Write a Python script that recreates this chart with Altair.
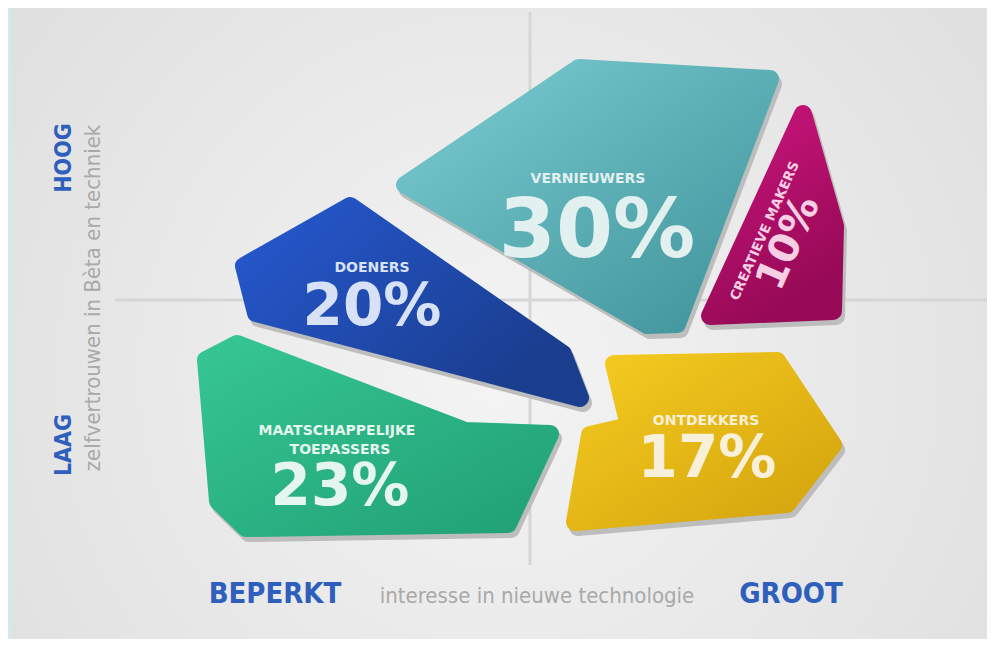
import altair as alt

# ---- shape outlines (reference pixel space, inset for rounded stroke) ----
vernieuwers_xy = [(405, 185), (579, 68), (770, 79), (677, 324), (647, 325)]
creatieve_xy = [(803, 114), (835, 226), (833, 311), (710, 316)]
doeners_xy = [(350, 206), (244, 266), (256, 313), (580, 398), (563, 354)]
toepassers_xy = [(206, 360), (237, 344), (465, 431), (550, 434), (508, 524), (246, 528), (218, 501)]
ontdekkers_xy = [(614, 364), (777, 361), (833, 445), (787, 504), (575, 522), (590, 435), (629, 426)]

shape_polys = [vernieuwers_xy, creatieve_xy, doeners_xy, toepassers_xy, ontdekkers_xy]
shape_grads = [
    [("#7bccd3", 0), ("#3f9299", 1)],
    [("#cc157d", 0), ("#980a57", 1)],
    [("#2659d0", 0), ("#1a3d8e", 1)],
    [("#36c693", 0), ("#21a075", 1)],
    [("#f5cb20", 0), ("#d3a30d", 1)],
]
shape_grad_dir = [(0, 0, 1, 1), (0, 0, 0.4, 1), (0, 0, 1, 0.6), (0, 0, 1, 1), (0, 0, 1, 1)]

# ---- texts ----
name_lines = ["VERNIEUWERS", "DOENERS", "MAATSCHAPPELIJKE", "TOEPASSERS", "ONTDEKKERS"]
name_x = [588, 372, 337, 340, 706]
name_y = [183, 272, 435, 454, 425]
name_col = ["#e2f0f0", "#d8e2f6", "#e4f6ef", "#e4f6ef", "#f8f0d8"]

pct_text = ["30%", "20%", "23%", "17%"]
pct_x = [597, 372, 340, 707]
pct_y = [257, 325, 505, 477]
pct_size = [82, 58, 58, 58]
pct_col = ["#e2f0f0", "#d8e2f6", "#e4f6ef", "#f8f0d8"]

creat_text = ["CREATIEVE MAKERS", "10%"]
creat_x = [765, 789]
creat_y = [231, 243]
creat_size = [13.5, 41]

axis_bold = ["HOOG", "LAAG"]
axis_bold_x = [71, 71]
axis_bold_y = [158, 445]
x_bold = ["BEPERKT", "GROOT"]
x_bold_x = [275, 791]
x_bold_y = [603, 603]
y_title = "zelfvertrouwen in Bèta en techniek"
x_title = "interesse in nieuwe technologie"

grid_h = [(115, 300), (995, 300)]
grid_v = [(530, 12), (530, 565)]


def feature(coords, kind="Polygon", dx=0, dy=0):
    pts = [[p[0] + dx, p[1] + dy] for p in coords]
    if kind == "Polygon":
        pts = [pts + [pts[0]]]
    return {"type": "Feature", "properties": {}, "geometry": {"type": kind, "coordinates": pts}}


layers = []

bg = alt.RadialGradient(
    gradient="radial",
    stops=[alt.GradientStop(color="#f4f4f4", offset=0), alt.GradientStop(color="#d8d8d8", offset=1)],
    x1=0.5, y1=0.55, r1=0, x2=0.5, y2=0.55, r2=0.85,
)
layers.append(
    alt.Chart(alt.InlineData(values=[{"a": 1}])).mark_rect(fill=bg).encode(
        x=alt.value(0), x2=alt.value(979), y=alt.value(0), y2=alt.value(631)
    )
)
layers.append(
    alt.Chart(alt.InlineData(values=[{"a": 1}])).mark_rect(fill="#d3e9f0").encode(
        x=alt.value(0), x2=alt.value(3), y=alt.value(0), y2=alt.value(631)
    )
)

for g in (grid_h, grid_v):
    layers.append(
        alt.Chart(alt.InlineData(values=[feature(g, "LineString")]))
        .mark_geoshape(filled=False, stroke="#d6d6d6", strokeWidth=3)
        .encode(opacity=alt.value(1))
    )

SW = 18
for poly in shape_polys:
    layers.append(
        alt.Chart(alt.InlineData(values=[feature(poly, dx=3, dy=5)]))
        .mark_geoshape(fill="#bdbdbd", stroke="#bdbdbd", strokeWidth=SW, strokeJoin="round")
        .encode(opacity=alt.value(1))
    )

for poly, stops, d in zip(shape_polys, shape_grads, shape_grad_dir):
    grad = alt.LinearGradient(
        gradient="linear",
        stops=[alt.GradientStop(color=c, offset=o) for c, o in stops],
        x1=d[0], y1=d[1], x2=d[2], y2=d[3],
    )
    layers.append(
        alt.Chart(alt.InlineData(values=[feature(poly)]))
        .mark_geoshape(fill=grad, stroke=grad, strokeWidth=SW, strokeJoin="round")
        .encode(opacity=alt.value(1))
    )


def text_rows(texts, xs, ys, extra=None):
    rows = []
    for i, t in enumerate(texts):
        r = {"t": t, "x": xs[i], "y": ys[i]}
        if extra:
            for k, v in extra.items():
                r[k] = v[i]
        rows.append(r)
    return alt.InlineData(values=rows)


geo_enc = dict(longitude=alt.Longitude("x:Q"), latitude=alt.Latitude("y:Q"), text=alt.Text("t:N"))

layers.append(
    alt.Chart(text_rows(name_lines, name_x, name_y, {"c": name_col}))
    .mark_text(font="DejaVu Sans", fontWeight="bold", fontSize=14, align="center", baseline="alphabetic")
    .encode(color=alt.Color("c:N", scale=None), **geo_enc)
)
layers.append(
    alt.Chart(text_rows(pct_text, pct_x, pct_y, {"c": pct_col, "s": pct_size}))
    .mark_text(font="DejaVu Sans", fontWeight="bold", align="center", baseline="alphabetic")
    .encode(color=alt.Color("c:N", scale=None), size=alt.Size("s:Q", scale=None), **geo_enc)
)
layers.append(
    alt.Chart(text_rows(creat_text, creat_x, creat_y, {"s": creat_size}))
    .mark_text(font="DejaVu Sans", fontWeight="bold", align="center", baseline="middle", angle=294, color="#f7cfe4")
    .encode(size=alt.Size("s:Q", scale=None), **geo_enc)
)
layers.append(
    alt.Chart(text_rows(axis_bold, axis_bold_x, axis_bold_y))
    .mark_text(font="DejaVu Sans Condensed", fontWeight="bold", fontSize=23, align="center",
               baseline="alphabetic", angle=270, color="#2f5fbd")
    .encode(**geo_enc)
)
layers.append(
    alt.Chart(text_rows(x_bold, x_bold_x, x_bold_y))
    .mark_text(font="DejaVu Sans Condensed", fontWeight="bold", fontSize=29, align="center",
               baseline="alphabetic", color="#2f5fbd")
    .encode(**geo_enc)
)
layers.append(
    alt.Chart(text_rows([y_title], [100], [298]))
    .mark_text(font="DejaVu Sans Condensed", fontSize=22, align="center", baseline="alphabetic",
               angle=270, color="#a9a9a9")
    .encode(**geo_enc)
)
layers.append(
    alt.Chart(text_rows([x_title], [537], [603]))
    .mark_text(font="DejaVu Sans Condensed", fontSize=22, align="center", baseline="alphabetic",
               color="#a9a9a9")
    .encode(**geo_enc)
)

chart = (
    alt.layer(*layers)
    .project(type="identity", scale=1, translate=[-8, -8])
    .properties(width=979, height=631, padding=0, autosize="none", background="#e6e6e6")
    .configure_view(stroke=None)
)

chart.save("out.html", embed_options={"renderer": "svg", "actions": False})
